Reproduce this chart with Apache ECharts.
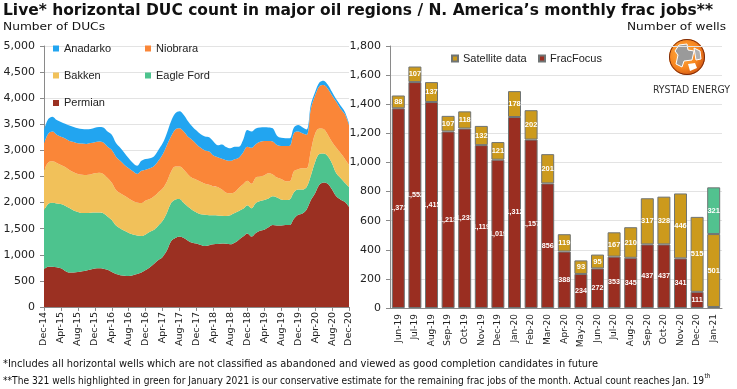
<!DOCTYPE html>
<html><head><meta charset="utf-8">
<script src="https://cdn.jsdelivr.net/npm/echarts@6/dist/echarts.min.js"></script>
<style>html,body{margin:0;padding:0;background:#fff}#c{width:737px;height:389px}</style>
</head><body><div id="c"></div>
<script>
var months = ['Dec-14','Jan-15','Feb-15','Mar-15','Apr-15','May-15','Jun-15','Jul-15','Aug-15','Sep-15','Oct-15','Nov-15',
'Dec-15','Jan-16','Feb-16','Mar-16','Apr-16','May-16','Jun-16','Jul-16','Aug-16','Sep-16','Oct-16','Nov-16',
'Dec-16','Jan-17','Feb-17','Mar-17','Apr-17','May-17','Jun-17','Jul-17','Aug-17','Sep-17','Oct-17','Nov-17',
'Dec-17','Jan-18','Feb-18','Mar-18','Apr-18','May-18','Jun-18','Jul-18','Aug-18','Sep-18','Oct-18','Nov-18',
'Dec-18','Jan-19','Feb-19','Mar-19','Apr-19','May-19','Jun-19','Jul-19','Aug-19','Sep-19','Oct-19','Nov-19',
'Dec-19','Jan-20','Feb-20','Mar-20','Apr-20','May-20','Jun-20','Jul-20','Aug-20','Sep-20','Oct-20','Nov-20','Dec-20'];
var permian = [722,770,770,760,740,690,660,660,670,685,700,720,738,742,735,712,670,630,610,598,594,610,632,660,708,760,830,900,960,1080,1260,1320,1350,1320,1270,1230,1215,1190,1170,1185,1200,1205,1215,1210,1200,1230,1290,1350,1410,1350,1420,1460,1480,1530,1570,1560,1560,1570,1570,1690,1765,1790,1870,2050,2180,2340,2385,2360,2250,2120,2060,2010,1920];
var eagleFord = [1136,1205,1225,1225,1235,1250,1235,1190,1150,1115,1100,1085,1072,1066,1060,1023,997,930,895,862,826,780,738,700,682,680,650,660,690,720,730,740,720,670,650,630,595,585,595,575,560,550,535,535,560,570,550,530,540,540,570,570,570,550,550,540,500,480,490,510,485,460,430,470,600,590,555,530,500,440,410,370,380];
var bakken = [762,795,795,775,745,740,730,730,730,735,730,735,750,764,755,735,713,680,675,670,660,640,630,630,650,630,640,640,620,600,600,630,620,640,620,610,630,625,595,580,550,545,500,445,420,400,440,470,470,470,490,470,470,480,420,380,390,360,350,400,390,410,360,480,540,490,470,410,410,490,480,460,420];
var niobrara = [510,550,570,540,543,550,555,580,585,595,595,600,595,598,600,600,630,640,620,590,577,570,550,620,590,590,580,600,650,700,680,710,733,730,720,730,680,650,640,640,590,570,590,620,620,630,580,610,650,690,640,668,660,621,630,624,635,675,680,730,720,668,640,800,730,810,843,880,890,880,850,857,768];
var anadarko = [260,280,286,280,282,280,295,290,290,280,280,270,280,280,290,290,290,260,250,230,192,160,155,190,205,190,190,210,215,230,290,310,327,320,300,260,260,260,265,270,270,230,275,255,240,240,210,240,320,310,300,272,263,259,254,179,155,147,142,110,127,115,100,80,70,70,83,80,70,48,60,45,32];

var fracMonths = ['Jun-19','Jul-19','Aug-19','Sep-19','Oct-19','Nov-19','Dec-19','Jan-20','Feb-20','Mar-20','Apr-20','May-20','Jun-20','Jul-20','Aug-20','Sep-20','Oct-20','Nov-20','Dec-20','Jan-21'];
var fracFocus = [1372,1552,1415,1213,1233,1119,1019,1312,1157,856,388,234,272,353,345,437,437,341,111,7];
var satellite = [88,107,137,107,118,132,121,178,202,201,119,93,95,167,210,317,328,446,515,501];
var estimate = [null,null,null,null,null,null,null,null,null,null,null,null,null,null,null,null,null,null,null,321];

var ducTicks = [0,500,1000,1500,2000,2500,3000,3500,4000,4500,5000];
var wellTicks = [0,200,400,600,800,1000,1200,1400,1600,1800];

var TITLE = 'Live* horizontal DUC count in major oil regions / N. America\u2019s monthly frac jobs**';
var NOTE1 = '*Includes all horizontal wells which are not classified as abandoned and viewed as good completion candidates in future';
var NOTE2 = '**The 321 wells highlighted in green for January 2021 is our conservative estimate for the remaining frac jobs of the month. Actual count reaches Jan. 19';

var C = {permian:'#9b3022', eagle:'#4dc38e', bakken:'#f1c15a', niobrara:'#fa8638', anadarko:'#22a5f0',
         frac:'#9a2e21', sat:'#cc9a1c', est:'#52c28f'};
var fmt = function(v){ return String(v).replace(/\B(?=(\d{3})+(?!\d))/g, ','); };
var BAR_W = 13;

var ctx = document.createElement('canvas').getContext('2d');
function measure(text, font){ ctx.font = font; return ctx.measureText(text).width; }
function fitText(text, font, x, y, targetW, anchorRight, fill){
  var w = measure(text, font), s = targetW / w;
  return {type:'text', x: anchorRight ? x - targetW : x, y:y, scaleX:s, scaleY:1,
    style:{text:text, font:font, fill:fill || '#111', verticalAlign:'middle', align:'left'}};
}

var chart = echarts.init(document.getElementById('c'), null, {renderer:'canvas'});

function legendAt(name, left, top){
  return {data:[name], left:left, top:top, padding:0, itemWidth:6, itemHeight:6, icon:'rect',
    selectedMode:false, textStyle:{fontFamily:'Liberation Sans', fontSize:11, color:'#222'}};
}
var axisLineStyle = {lineStyle:{color:'#8a8a8a', width:1}};
function areaSeries(name, data, color){
  return {name:name, type:'line', xAxisIndex:0, yAxisIndex:0, stack:'duc', data:data, symbol:'none', smooth:0.35,
    lineStyle:{width:0}, areaStyle:{color:color, opacity:1}, itemStyle:{color:color}, silent:true, z:2};
}

var fnFont = '10px "DejaVu Sans Condensed"';
var note2W = 701;

var option = {
  animation:false,
  legend:[
    legendAt('Anadarko', 53, 43), legendAt('Niobrara', 145, 43),
    legendAt('Bakken', 53, 70), legendAt('Eagle Ford', 145, 70),
    legendAt('Permian', 53, 97.5),
    legendAt('Satellite data', 451, 53), legendAt('FracFocus', 538, 53)
  ],
  grid:[
    {left:44, top:46, width:305, height:261},
    {left:390, top:46, width:332, height:262}
  ],
  xAxis:[
    {type:'category', gridIndex:0, data:months, boundaryGap:false,
     axisLine:axisLineStyle, axisTick:{interval:3, length:4, lineStyle:{color:'#8a8a8a'}},
     axisLabel:{interval:3, rotate:90, fontFamily:'DejaVu Sans', fontSize:9.5, color:'#222', margin:5},
     splitLine:{show:false}},
    {type:'category', gridIndex:1, data:fracMonths, boundaryGap:true,
     axisLine:axisLineStyle, axisTick:{length:4, lineStyle:{color:'#8a8a8a'}},
     axisLabel:{interval:0, rotate:90, fontFamily:'DejaVu Sans', fontSize:9, color:'#222', margin:6},
     splitLine:{show:false}}
  ],
  yAxis:[
    {type:'value', gridIndex:0, min:ducTicks[0], max:ducTicks[ducTicks.length-1], interval:500,
     axisLine:{show:true, lineStyle:{color:'#8a8a8a'}}, axisTick:{show:true, length:4, lineStyle:{color:'#8a8a8a'}},
     axisLabel:{formatter:fmt, fontFamily:'DejaVu Sans', fontSize:11, color:'#222', margin:9},
     splitLine:{lineStyle:{color:'#e3e3e3'}}},
    {type:'value', gridIndex:1, min:wellTicks[0], max:wellTicks[wellTicks.length-1], interval:200,
     axisLine:{show:true, lineStyle:{color:'#8a8a8a'}}, axisTick:{show:true, length:4, lineStyle:{color:'#8a8a8a'}},
     axisLabel:{formatter:fmt, fontFamily:'DejaVu Sans', fontSize:11, color:'#222', margin:9},
     splitLine:{lineStyle:{color:'#e3e3e3'}}}
  ],
  series:[
    areaSeries('Permian', permian, C.permian),
    areaSeries('Eagle Ford', eagleFord, C.eagle),
    areaSeries('Bakken', bakken, C.bakken),
    areaSeries('Niobrara', niobrara, C.niobrara),
    areaSeries('Anadarko', anadarko, C.anadarko),
    {name:'FracFocus', type:'bar', xAxisIndex:1, yAxisIndex:1, stack:'frac', data:fracFocus, barWidth:BAR_W,
     itemStyle:{color:C.frac, borderColor:'#6f7474', borderWidth:1}, silent:true},
    {name:'Satellite data', type:'bar', xAxisIndex:1, yAxisIndex:1, stack:'frac', data:satellite, barWidth:BAR_W,
     itemStyle:{color:C.sat, borderColor:'#6f7474', borderWidth:1}, silent:true,
     label:{show:true, position:'inside', color:'#fff', fontFamily:'Liberation Sans', fontWeight:'bold', fontSize:7.5}},
    {name:'Estimate', type:'bar', xAxisIndex:1, yAxisIndex:1, stack:'frac', data:estimate, barWidth:BAR_W,
     itemStyle:{color:C.est, borderColor:'#6f7474', borderWidth:1}, silent:true,
     label:{show:true, position:'inside', color:'#fff', fontFamily:'Liberation Sans', fontWeight:'bold', fontSize:7.5}},
    {name:'FracFocusLabels', type:'custom', xAxisIndex:1, yAxisIndex:1, silent:true, z:5,
     data:fracFocus.map(function(v,i){return [i,v];}),
     renderItem:function(params, api){
       var v = api.value(1);
       if (v < 50) return null;
       var top = api.coord([api.value(0), v]);
       var bot = api.coord([api.value(0), 0]);
       return {type:'group', children:[{type:'text', x:top[0], y:(top[1]+bot[1])/2,
           style:{text:fmt(v), fill:'#fff', font:'bold 7.2px "Liberation Sans"', align:'center', verticalAlign:'middle'}}],
         clipPath:{type:'rect', shape:{x:top[0]-BAR_W/2, y:top[1], width:BAR_W, height:bot[1]-top[1]}}};
     }}
  ],
  graphic:[
    fitText(TITLE, 'bold 16px "DejaVu Sans"', 3, 10.5, 710),
    fitText('Number of DUCs', '11px "DejaVu Sans"', 3, 27, 102),
    fitText('Number of wells', '11px "DejaVu Sans"', 726, 27.5, 99, true),
    fitText(NOTE1, fnFont, 3, 364.5, 595),
    fitText(NOTE2, fnFont, 3, 381.5, note2W),
    {type:'text', x:3 + note2W + 0.5, y:376, style:{text:'th', font:'6.5px "DejaVu Sans Condensed"', fill:'#111', verticalAlign:'middle'}},
    {type:'group', x:669, y:39, children:[
      {type:'circle', shape:{cx:18, cy:18, r:18}, style:{fill:new echarts.graphic.RadialGradient(0.4,0.4,0.7,[{offset:0,color:'#ffb347'},{offset:0.6,color:'#f7851f'},{offset:1,color:'#c94d12'}])}},
      {type:'polygon', shape:{points:[[10,6],[18,5],[19,11],[25,12],[23,21],[15,22],[13,28],[7,25],[9,16],[6,12]]}, style:{fill:'#9a9a9a', stroke:'#fff', lineWidth:1}},
      {type:'polygon', shape:{points:[[25,9],[31,12],[32,20],[27,21]]}, style:{fill:'#b0b0b0', stroke:'#fff', lineWidth:1}},
      {type:'polygon', shape:{points:[[19,25],[26,24],[28,29],[21,32]]}, style:{fill:'#fff'}},
      {type:'circle', shape:{cx:18, cy:18, r:17.5}, style:{fill:'none', stroke:'#7a2a0a', lineWidth:1}}
    ]},
    fitText('RYSTAD ENERGY', '10px "DejaVu Sans Condensed"', 653, 90, 77, false, '#333')
  ]
};
chart.setOption(option);
</script></body></html>
